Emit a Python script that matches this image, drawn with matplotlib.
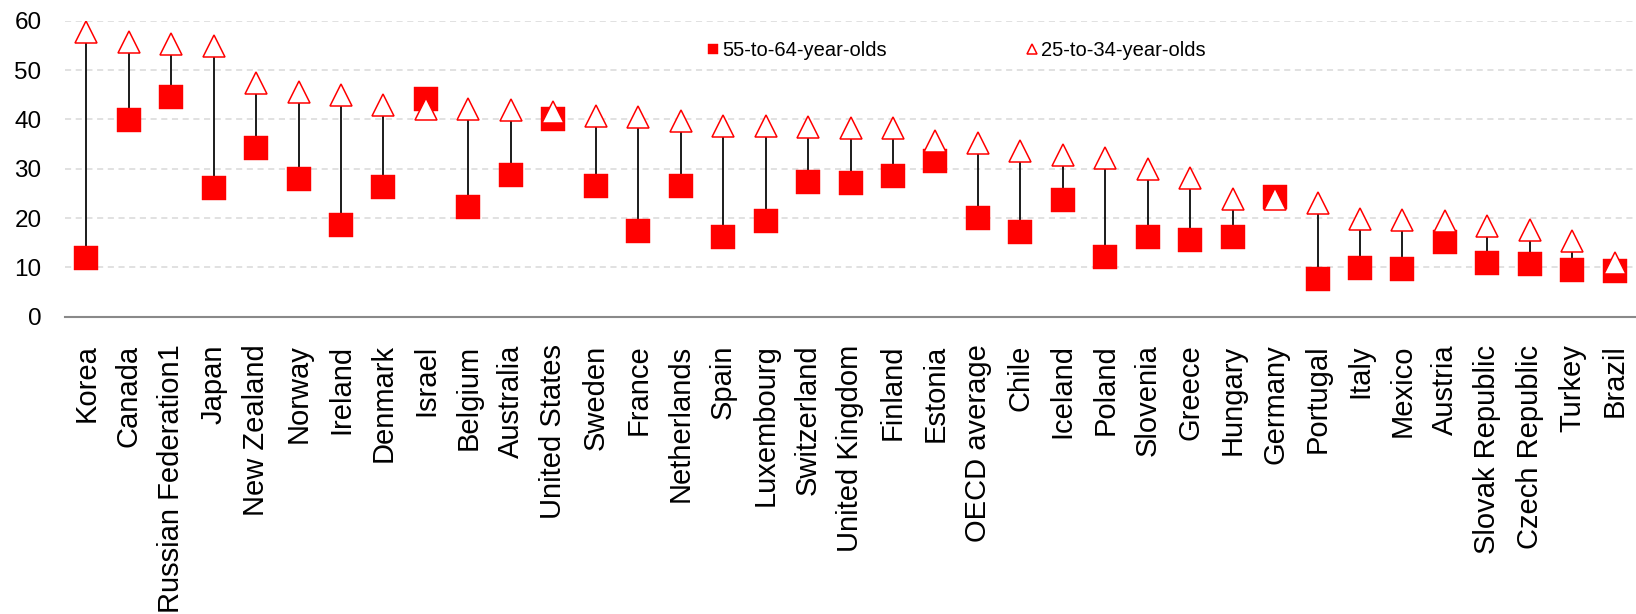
import numpy as np
import matplotlib
matplotlib.use("Agg")
import matplotlib.pyplot as plt
from matplotlib.lines import Line2D

plt.rcParams['font.family'] = ['Liberation Sans', 'DejaVu Sans']

# Du lieu doc tu hinh goc
countries = ["Korea", "Canada", "Russian Federation1", "Japan", "New Zealand", "Norway",
             "Ireland", "Denmark", "Israel", "Belgium", "Australia", "United States",
             "Sweden", "France", "Netherlands", "Spain", "Luxembourg", "Switzerland",
             "United Kingdom", "Finland", "Estonia", "OECD average", "Chile", "Iceland",
             "Poland", "Slovenia", "Greece", "Hungary", "Germany", "Portugal", "Italy",
             "Mexico", "Austria", "Slovak Republic", "Czech Republic", "Turkey", "Brazil"]

age_25_34 = [57.7, 55.7, 55.3, 54.9, 47.4, 45.5, 44.9, 43.0, 42.1, 42.2, 41.8, 41.5,
             40.7, 40.5, 39.7, 38.6, 38.6, 38.4, 38.3, 38.2, 35.7, 35.3, 33.6, 32.8,
             32.1, 30.0, 28.2, 23.9, 23.9, 23.1, 19.9, 19.6, 19.4, 18.4, 17.6, 15.4, 10.9]

age_55_64 = [12.0, 39.9, 44.5, 26.0, 34.1, 28.0, 18.6, 26.3, 44.1, 22.2, 28.7, 40.1,
             26.5, 17.4, 26.5, 16.1, 19.4, 27.4, 27.2, 28.6, 31.6, 20.1, 17.2, 23.6,
             12.1, 16.1, 15.5, 16.1, 24.3, 7.6, 9.9, 9.6, 15.1, 10.9, 10.7, 9.5, 9.2]

yticks = [0, 10, 20, 30, 40, 50, 60]
labels = ["55-to-64-year-olds", "25-to-34-year-olds"]

W, H = 1636, 614
fig = plt.figure(figsize=(W / 100, H / 100), dpi=100)
ax = fig.add_axes([65 / W, 1 - 316.7 / H, 1 - 65 / W, (316.7 - 20.7) / H])

x = np.arange(len(countries))
red = "#ff0000"

# Duong noi giua hai nhom tuoi
ax.vlines(x, age_55_64, age_25_34, colors="black", linewidth=1.25, zorder=2)
ax.plot(x, age_55_64, linestyle="none", marker="s", markersize=17,
        markerfacecolor=red, markeredgecolor=red, markeredgewidth=0.3, zorder=3)
ax.plot(x, age_25_34, linestyle="none", marker="^", markersize=16.5,
        markerfacecolor="white", markeredgecolor=red, markeredgewidth=1.1, zorder=4)

ax.set_xlim(-0.5, len(countries) - 0.5)
ax.set_ylim(0, 60)
ax.set_yticks(yticks)
ax.set_xticks(x)
ax.set_xticklabels(countries, rotation=90, fontsize=21)
ax.tick_params(axis="x", length=0, pad=20)
ax.tick_params(axis="y", length=0, pad=17, labelsize=17.5)

ax.yaxis.grid(True, color="#d9d9d9", linewidth=1.1, linestyle=(0, (4, 3)))
ax.set_axisbelow(True)
for side in ["left", "right", "top"]:
    ax.spines[side].set_visible(False)
ax.spines["bottom"].set_color("#898989")
ax.spines["bottom"].set_linewidth(1.5)

handles = [
    Line2D([], [], linestyle="none", marker="s", markersize=7.5,
           markerfacecolor=red, markeredgecolor=red, markeredgewidth=0.3),
    Line2D([], [], linestyle="none", marker="^", markersize=7.5,
           markerfacecolor="white", markeredgecolor=red, markeredgewidth=1.1),
]
fig.legend(handles, labels, loc="center left", bbox_to_anchor=(706.5 / W, 1 - 50.7 / H),
           ncol=2, frameon=False, fontsize=14.5, handlelength=0.6, handletextpad=0.17,
           columnspacing=6.9, borderpad=0, borderaxespad=0)

fig.savefig("out.png", dpi=100)
